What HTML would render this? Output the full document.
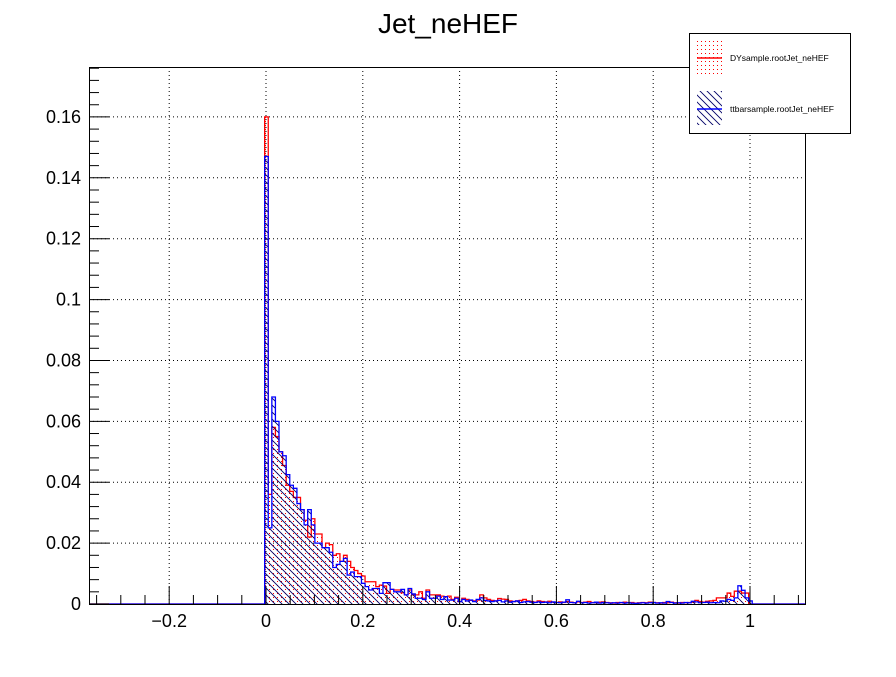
<!DOCTYPE html>
<html><head><meta charset="utf-8"><style>
body{margin:0;background:#fff;}
svg text{font-family:"Liberation Sans",sans-serif;}
</style></head><body>
<svg id="chart" width="896" height="672" xmlns="http://www.w3.org/2000/svg">
<defs>
<pattern id="dots" width="4" height="4" patternUnits="userSpaceOnUse"><rect x="1" y="1" width="1" height="1" fill="#ff0000"/></pattern>
<pattern id="hatch" width="7" height="7" patternUnits="userSpaceOnUse"><path d="M-2,-2 L9,9 M-2,5 L2,9 M5,-2 L9,2" stroke="#000066" stroke-width="0.9"/></pattern>
</defs>
<rect width="896" height="672" fill="#fff"/>
<text x="448" y="33" font-size="28" text-anchor="middle">Jet_neHEF</text>
<g id="grid"></g><g id="hist"></g><g id="axes"></g>
<g>
<rect x="689.5" y="33.5" width="161" height="100" fill="#fff" stroke="#000"/>
<g>
<rect x="697" y="41" width="25" height="34" fill="url(#dots)"/>
<line x1="697" y1="58" x2="722" y2="58" stroke="#ff0000" stroke-width="1.5"/>
<text x="730" y="61" font-size="8.5">DYsample.rootJet_neHEF</text></g>
<g>
<rect x="697" y="91" width="25" height="34" fill="url(#hatch)"/>
<line x1="697" y1="109" x2="722" y2="109" stroke="#0000ff" stroke-width="1.5"/>
<text x="730" y="112" font-size="8.5">ttbarsample.rootJet_neHEF</text></g>
</g>
</svg>
<script>
const xTicks=[-0.2,0,0.2,0.4,0.6,0.8,1];
const xTickLabels=["\u22120.2","0","0.2","0.4","0.6","0.8","1"];
const yTicks=[0,0.02,0.04,0.06,0.08,0.1,0.12,0.14,0.16];
const yTickLabels=["0","0.02","0.04","0.06","0.08","0.1","0.12","0.14","0.16"];
const binStart=49;
const dyValues=[160,36,58,55,50,45.5,39,37,35,35,31,27.5,22,28,23,23,18.5,20,19.5,16,16.5,14,16,14,12,11,10,9.2,7.3,7.3,7.3,5.7,6.2,5.9,3.5,4.8,4.6,4.6,3.7,3.0,4.6,3.0,3.0,4.0,1.9,4.6,3.0,3.0,3.0,2.6,2.4,2.6,1.5,2.2,0.8,1.9,
1.5,1.2,1.0,1.3,3.0,2.0,1.5,1.2,1.0,1.8,1.6,1.5,1.0,0.8,1.0,1.2,1.5,1.0,0.8,0.6,1.0,0.8,0.7,0.9,0.6,0.5,0.7,
0.5,0.8,0.6,0.4,0.7,0.5,0.6,0.8,0.5,0.4,0.6,0.7,0.5,0.4,0.3,0.5,0.4,0.6,0.4,0.5,0.3,0.4,0.5,0.4,0.6,0.5,0.4,0.3,0.5,0.4,0.6,0.4,0.3,0.5,0.4,0.5,0.6,1.2,0.8,0.6,0.9,1.0,1.2,
2.0,2.0,2.0,3.6,2.5,4.2,4.2,3.6,3.6,0];
const ttValues=[147,25,68,60,50,48.7,42.5,39,38,33,31,26,31,26,20,20,18.5,18.5,17,12,13,14,15,9.5,10.5,9,9,6.8,5.7,4.6,5.1,5.1,3.5,7.0,7.0,4.8,4.0,4.0,4.8,3.0,5.1,3.3,1.9,1.9,1.5,4.0,1.9,1.9,2.6,1.5,2.4,1.3,1.3,1.9,0.8,1.5,
1.0,1.3,0.8,1.5,2.0,1.2,1.0,0.8,1.0,1.2,0.7,1.0,0.6,0.8,1.0,0.5,0.7,0.8,0.6,0.5,0.7,0.5,0.6,0.4,0.7,0.5,0.4,
0.6,1.4,0.5,0.4,0.9,0.4,0.5,0.3,0.4,0.6,0.3,0.5,0.4,0.3,0.4,0.3,0.5,0.3,0.4,0.3,0.2,0.3,0.4,0.3,0.4,0.5,0.3,0.4,0.3,0.8,0.5,0.3,0.4,0.3,0.5,0.4,0.9,0.7,0.4,0.5,0.6,0.4,0.5,
0.4,1.0,0.9,1.5,1.2,2.0,6.0,4.5,2.0,1.0];

const NS="http://www.w3.org/2000/svg";
const L=89,R=806,T=67,B=604;
const xMin=-0.3657,xMax=1.1157,yMax=0.1764,nBins=200;
const X=v=>L+(v-xMin)/(xMax-xMin)*(R-L);
const Y=v=>B-v/yMax*(B-T);
const binW=(xMax-xMin)/nBins;
function mk(tag,attrs,parent){const e=document.createElementNS(NS,tag);for(const k in attrs)e.setAttribute(k,attrs[k]);parent.appendChild(e);return e;}
const grid=document.getElementById('grid'),hist=document.getElementById('hist'),axes=document.getElementById('axes');
xTicks.forEach(v=>{const l=mk('line',{x1:X(v),x2:X(v),y1:T,y2:B,stroke:'#000','stroke-dasharray':'1,3','stroke-width':1},grid);

});
yTicks.slice(1).forEach(v=>{const l=mk('line',{x1:L,x2:R,y1:Y(v),y2:Y(v),stroke:'#000','stroke-dasharray':'1,3','stroke-width':1},grid);

});
function drawSeries(vals,fill,stroke,name){
  let d='M'+L+','+B+' L'+X(xMin+binStart*binW).toFixed(2)+','+B;
  vals.forEach((v,i)=>{const x1=X(xMin+(binStart+i)*binW),x2=X(xMin+(binStart+i+1)*binW),y=Y(v/1000);d+=' L'+x1.toFixed(2)+','+y.toFixed(2)+' L'+x2.toFixed(2)+','+y.toFixed(2);});
  d+=' L'+X(xMin+(binStart+vals.length)*binW).toFixed(2)+','+B+' L'+R+','+B;
  const f=mk('path',{d:d+' Z',fill:fill,stroke:'none'},hist);
  
  
  const s=mk('path',{d:d,fill:'none',stroke:stroke,'stroke-width':1.3},hist);
  
  
}
drawSeries(dyValues,'url(#dots)','#ff0000','dy-histogram');
drawSeries(ttValues,'url(#hatch)','#0000ff','ttbar-histogram');
const frame=mk('rect',{x:L+0.5,y:T+0.5,width:R-L-1,height:B-T,fill:'none',stroke:'#000'},axes);


for(let v=-0.35;v<=1.1001;v+=0.05){const major=Math.abs(Math.round(v*5)-v*5)<1e-6;const x=X(v);
 mk('line',{x1:x,x2:x,y1:B,y2:B-(major?18:9),stroke:'#000'},axes);}
for(let v=0;v<=0.1761;v+=0.004){const major=Math.abs(Math.round(v*50)-v*50)<1e-6;const y=Y(v);
 mk('line',{x1:L,x2:L+(major?20:10),y1:y,y2:y,stroke:'#000'},axes);}
xTicks.forEach((v,i)=>{const t=mk('text',{x:X(v),y:627,'font-size':18,'text-anchor':'middle'},axes);t.textContent=xTickLabels[i];

});
yTicks.forEach((v,i)=>{const t=mk('text',{x:81,y:Y(v)+6,'font-size':18,'text-anchor':'end'},axes);t.textContent=yTickLabels[i];

});
</script>
</body></html>
